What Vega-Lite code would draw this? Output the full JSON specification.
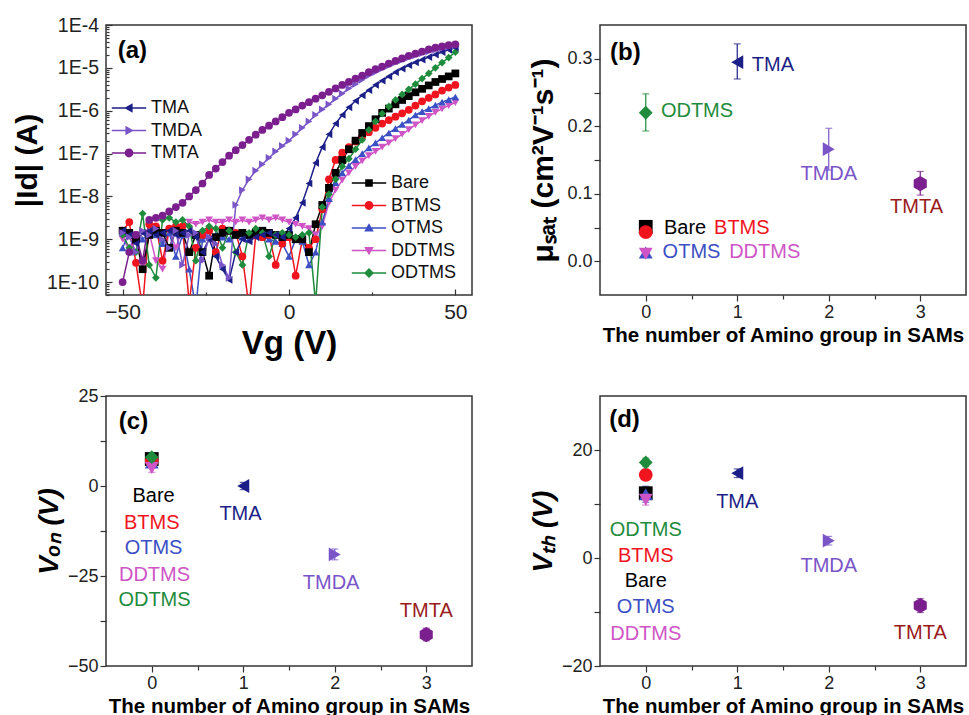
{
"$schema": "https://vega.github.io/schema/vega-lite/v6.json",
"background": "white",
"padding": {"left": 11, "top": 14, "right": 0, "bottom": 0},
"config": {
  "font": "Liberation Sans",
  "view": {"stroke": "#333", "strokeWidth": 1.5},
  "axis": {"grid": false, "domain": false, "labelFont": "Liberation Sans", "labelColor": "#222", "tickColor": "#333", "tickWidth": 1.2, "titleFont": "Liberation Sans", "titleFontWeight": "bold", "titleColor": "#000", "labelOverlap": false, "labelFlush": false},
  "legend": {"labelFont": "Liberation Sans", "labelFontSize": 18, "labelColor": "#111", "symbolSize": 64, "symbolStrokeWidth": 0, "rowPadding": 4.5, "padding": 0}
},
"datasets": {
"ivSam": [
{"s":"DDTMS","v":-50,"i":1.0e-9},{"s":"DDTMS","v":-48,"i":6.31e-10},{"s":"DDTMS","v":-46,"i":1.26e-9},{"s":"DDTMS","v":-44,"i":2.51e-10},{"s":"DDTMS","v":-42,"i":1.41e-9},{"s":"DDTMS","v":-40,"i":3.16e-10},{"s":"DDTMS","v":-38,"i":2.0e-10},{"s":"DDTMS","v":-36,"i":1.58e-9},{"s":"DDTMS","v":-34,"i":6.31e-10},{"s":"DDTMS","v":-32,"i":1.78e-9},{"s":"DDTMS","v":-30,"i":2.51e-9},{"s":"DDTMS","v":-28,"i":2.24e-9},{"s":"DDTMS","v":-26,"i":2.51e-9},{"s":"DDTMS","v":-24,"i":2.82e-9},{"s":"DDTMS","v":-22,"i":2.51e-9},{"s":"DDTMS","v":-20,"i":2.51e-9},{"s":"DDTMS","v":-18,"i":2.82e-9},{"s":"DDTMS","v":-16,"i":2.51e-9},{"s":"DDTMS","v":-14,"i":2.82e-9},{"s":"DDTMS","v":-12,"i":2.51e-9},{"s":"DDTMS","v":-10,"i":2.82e-9},{"s":"DDTMS","v":-8,"i":3.16e-9},{"s":"DDTMS","v":-6,"i":2.82e-9},{"s":"DDTMS","v":-4,"i":3.16e-9},{"s":"DDTMS","v":-2,"i":2.82e-9},{"s":"DDTMS","v":0,"i":2.51e-9},{"s":"DDTMS","v":2,"i":2.24e-9},{"s":"DDTMS","v":4,"i":2.0e-9},{"s":"DDTMS","v":6,"i":1.78e-9},{"s":"DDTMS","v":8,"i":1.26e-9},{"s":"DDTMS","v":10,"i":2.0e-9},{"s":"DDTMS","v":12,"i":7.08e-9},{"s":"DDTMS","v":14,"i":1.41e-8},{"s":"DDTMS","v":16,"i":2.4e-8},{"s":"DDTMS","v":18,"i":3.55e-8},{"s":"DDTMS","v":20,"i":5.01e-8},{"s":"DDTMS","v":22,"i":6.76e-8},{"s":"DDTMS","v":24,"i":8.91e-8},{"s":"DDTMS","v":26,"i":1.12e-7},{"s":"DDTMS","v":28,"i":1.41e-7},{"s":"DDTMS","v":30,"i":1.78e-7},{"s":"DDTMS","v":32,"i":2.24e-7},{"s":"DDTMS","v":34,"i":2.82e-7},{"s":"DDTMS","v":36,"i":3.63e-7},{"s":"DDTMS","v":38,"i":4.68e-7},{"s":"DDTMS","v":40,"i":5.89e-7},{"s":"DDTMS","v":42,"i":7.41e-7},{"s":"DDTMS","v":44,"i":9.12e-7},{"s":"DDTMS","v":46,"i":1.1e-6},{"s":"DDTMS","v":48,"i":1.32e-6},{"s":"DDTMS","v":50,"i":1.55e-6},
{"s":"OTMS","v":-50,"i":6.31e-10},{"s":"OTMS","v":-48,"i":1.41e-9},{"s":"OTMS","v":-46,"i":1.26e-9},{"s":"OTMS","v":-44,"i":1.0e-9},{"s":"OTMS","v":-42,"i":1.41e-9},{"s":"OTMS","v":-40,"i":1.26e-9},{"s":"OTMS","v":-38,"i":7.94e-10},{"s":"OTMS","v":-36,"i":1.41e-9},{"s":"OTMS","v":-34,"i":3.98e-10},{"s":"OTMS","v":-32,"i":1.26e-9},{"s":"OTMS","v":-30,"i":2.0e-10},{"s":"OTMS","v":-28,"i":2.5e-11},{"s":"OTMS","v":-26,"i":1.0e-9},{"s":"OTMS","v":-24,"i":1.12e-9},{"s":"OTMS","v":-22,"i":1.26e-9},{"s":"OTMS","v":-20,"i":1.12e-9},{"s":"OTMS","v":-18,"i":1.0e-9},{"s":"OTMS","v":-16,"i":1.26e-9},{"s":"OTMS","v":-14,"i":1.12e-9},{"s":"OTMS","v":-12,"i":1.0e-9},{"s":"OTMS","v":-10,"i":1.26e-9},{"s":"OTMS","v":-8,"i":1.12e-9},{"s":"OTMS","v":-6,"i":1.0e-9},{"s":"OTMS","v":-4,"i":8.91e-10},{"s":"OTMS","v":-2,"i":7.94e-10},{"s":"OTMS","v":0,"i":3.98e-10},{"s":"OTMS","v":2,"i":1.0e-9},{"s":"OTMS","v":4,"i":8.91e-10},{"s":"OTMS","v":6,"i":2.51e-10},{"s":"OTMS","v":8,"i":5.01e-10},{"s":"OTMS","v":10,"i":2.51e-9},{"s":"OTMS","v":12,"i":8.91e-9},{"s":"OTMS","v":14,"i":2.09e-8},{"s":"OTMS","v":16,"i":3.55e-8},{"s":"OTMS","v":18,"i":5.25e-8},{"s":"OTMS","v":20,"i":7.24e-8},{"s":"OTMS","v":22,"i":1.0e-7},{"s":"OTMS","v":24,"i":1.35e-7},{"s":"OTMS","v":26,"i":1.78e-7},{"s":"OTMS","v":28,"i":2.34e-7},{"s":"OTMS","v":30,"i":3.02e-7},{"s":"OTMS","v":32,"i":3.8e-7},{"s":"OTMS","v":34,"i":4.79e-7},{"s":"OTMS","v":36,"i":6.03e-7},{"s":"OTMS","v":38,"i":7.94e-7},{"s":"OTMS","v":40,"i":9.55e-7},{"s":"OTMS","v":42,"i":1.12e-6},{"s":"OTMS","v":44,"i":1.35e-6},{"s":"OTMS","v":46,"i":1.58e-6},{"s":"OTMS","v":48,"i":1.82e-6},{"s":"OTMS","v":50,"i":2.09e-6},
{"s":"BTMS","v":-50,"i":1.58e-9},{"s":"BTMS","v":-48,"i":2.51e-9},{"s":"BTMS","v":-46,"i":2.82e-10},{"s":"BTMS","v":-44,"i":2.5e-11},{"s":"BTMS","v":-42,"i":2.24e-9},{"s":"BTMS","v":-40,"i":2.0e-9},{"s":"BTMS","v":-38,"i":3.16e-10},{"s":"BTMS","v":-36,"i":1.78e-9},{"s":"BTMS","v":-34,"i":2.0e-9},{"s":"BTMS","v":-32,"i":2.0e-9},{"s":"BTMS","v":-30,"i":3.16e-11},{"s":"BTMS","v":-28,"i":6.31e-10},{"s":"BTMS","v":-26,"i":1.26e-9},{"s":"BTMS","v":-24,"i":1.58e-9},{"s":"BTMS","v":-22,"i":5.01e-10},{"s":"BTMS","v":-20,"i":1.78e-9},{"s":"BTMS","v":-18,"i":1.58e-9},{"s":"BTMS","v":-16,"i":1.41e-9},{"s":"BTMS","v":-14,"i":3.98e-10},{"s":"BTMS","v":-12,"i":2.5e-11},{"s":"BTMS","v":-10,"i":1.26e-9},{"s":"BTMS","v":-8,"i":1.12e-9},{"s":"BTMS","v":-6,"i":1.26e-9},{"s":"BTMS","v":-4,"i":2.51e-10},{"s":"BTMS","v":-2,"i":7.94e-10},{"s":"BTMS","v":0,"i":1.12e-9},{"s":"BTMS","v":2,"i":1.41e-10},{"s":"BTMS","v":4,"i":1.0e-9},{"s":"BTMS","v":6,"i":6.31e-10},{"s":"BTMS","v":8,"i":1.0e-9},{"s":"BTMS","v":10,"i":5.01e-9},{"s":"BTMS","v":12,"i":2.51e-8},{"s":"BTMS","v":14,"i":7.08e-8},{"s":"BTMS","v":16,"i":1.05e-7},{"s":"BTMS","v":18,"i":1.41e-7},{"s":"BTMS","v":20,"i":1.91e-7},{"s":"BTMS","v":22,"i":2.51e-7},{"s":"BTMS","v":24,"i":3.16e-7},{"s":"BTMS","v":26,"i":3.98e-7},{"s":"BTMS","v":28,"i":5.01e-7},{"s":"BTMS","v":30,"i":6.03e-7},{"s":"BTMS","v":32,"i":7.24e-7},{"s":"BTMS","v":34,"i":8.71e-7},{"s":"BTMS","v":36,"i":1.05e-6},{"s":"BTMS","v":38,"i":1.32e-6},{"s":"BTMS","v":40,"i":1.66e-6},{"s":"BTMS","v":42,"i":2.0e-6},{"s":"BTMS","v":44,"i":2.4e-6},{"s":"BTMS","v":46,"i":2.95e-6},{"s":"BTMS","v":48,"i":3.47e-6},{"s":"BTMS","v":50,"i":3.98e-6},
{"s":"Bare","v":-50,"i":1.58e-9},{"s":"Bare","v":-48,"i":1.41e-9},{"s":"Bare","v":-46,"i":1.0e-9},{"s":"Bare","v":-44,"i":2.0e-10},{"s":"Bare","v":-42,"i":1.26e-9},{"s":"Bare","v":-40,"i":1.58e-9},{"s":"Bare","v":-38,"i":1.41e-9},{"s":"Bare","v":-36,"i":6.31e-10},{"s":"Bare","v":-34,"i":1.58e-9},{"s":"Bare","v":-32,"i":1.41e-9},{"s":"Bare","v":-30,"i":5.0e-10},{"s":"Bare","v":-28,"i":1.26e-9},{"s":"Bare","v":-26,"i":5.0e-10},{"s":"Bare","v":-24,"i":1.41e-10},{"s":"Bare","v":-22,"i":1.12e-9},{"s":"Bare","v":-20,"i":1.41e-9},{"s":"Bare","v":-18,"i":1.58e-9},{"s":"Bare","v":-16,"i":1.26e-9},{"s":"Bare","v":-14,"i":1.41e-9},{"s":"Bare","v":-12,"i":1.26e-9},{"s":"Bare","v":-10,"i":1.41e-9},{"s":"Bare","v":-8,"i":1.58e-9},{"s":"Bare","v":-6,"i":1.41e-9},{"s":"Bare","v":-4,"i":1.26e-9},{"s":"Bare","v":-2,"i":1.12e-9},{"s":"Bare","v":0,"i":1.26e-9},{"s":"Bare","v":2,"i":1.0e-9},{"s":"Bare","v":4,"i":1.0e-9},{"s":"Bare","v":6,"i":5.0e-10},{"s":"Bare","v":8,"i":2.24e-9},{"s":"Bare","v":10,"i":6.31e-9},{"s":"Bare","v":12,"i":1.58e-8},{"s":"Bare","v":14,"i":3.55e-8},{"s":"Bare","v":16,"i":7.08e-8},{"s":"Bare","v":18,"i":1.26e-7},{"s":"Bare","v":20,"i":2.0e-7},{"s":"Bare","v":22,"i":3.02e-7},{"s":"Bare","v":24,"i":4.37e-7},{"s":"Bare","v":26,"i":6.31e-7},{"s":"Bare","v":28,"i":8.91e-7},{"s":"Bare","v":30,"i":1.12e-6},{"s":"Bare","v":32,"i":1.41e-6},{"s":"Bare","v":34,"i":1.78e-6},{"s":"Bare","v":36,"i":2.19e-6},{"s":"Bare","v":38,"i":2.69e-6},{"s":"Bare","v":40,"i":3.24e-6},{"s":"Bare","v":42,"i":3.89e-6},{"s":"Bare","v":44,"i":4.68e-6},{"s":"Bare","v":46,"i":5.5e-6},{"s":"Bare","v":48,"i":6.31e-6},{"s":"Bare","v":50,"i":7.41e-6},
{"s":"ODTMS","v":-50,"i":1.26e-9},{"s":"ODTMS","v":-48,"i":6.31e-10},{"s":"ODTMS","v":-46,"i":5.0e-10},{"s":"ODTMS","v":-44,"i":3.98e-9},{"s":"ODTMS","v":-42,"i":2.51e-10},{"s":"ODTMS","v":-40,"i":1.26e-10},{"s":"ODTMS","v":-38,"i":2.82e-9},{"s":"ODTMS","v":-36,"i":3.16e-9},{"s":"ODTMS","v":-34,"i":2.51e-9},{"s":"ODTMS","v":-32,"i":2.82e-9},{"s":"ODTMS","v":-30,"i":2.0e-9},{"s":"ODTMS","v":-28,"i":3.16e-10},{"s":"ODTMS","v":-26,"i":1.58e-9},{"s":"ODTMS","v":-24,"i":2.0e-9},{"s":"ODTMS","v":-22,"i":1.78e-9},{"s":"ODTMS","v":-20,"i":6.31e-10},{"s":"ODTMS","v":-18,"i":1.58e-9},{"s":"ODTMS","v":-16,"i":5.0e-10},{"s":"ODTMS","v":-14,"i":2.51e-10},{"s":"ODTMS","v":-12,"i":1.41e-9},{"s":"ODTMS","v":-10,"i":1.78e-9},{"s":"ODTMS","v":-8,"i":1.41e-9},{"s":"ODTMS","v":-6,"i":3.98e-10},{"s":"ODTMS","v":-4,"i":1.26e-9},{"s":"ODTMS","v":-2,"i":1.41e-9},{"s":"ODTMS","v":0,"i":1.26e-9},{"s":"ODTMS","v":2,"i":1.12e-9},{"s":"ODTMS","v":4,"i":1.26e-9},{"s":"ODTMS","v":6,"i":1.41e-9},{"s":"ODTMS","v":8,"i":3.16e-11},{"s":"ODTMS","v":10,"i":5.62e-9},{"s":"ODTMS","v":12,"i":1.12e-8},{"s":"ODTMS","v":14,"i":2.51e-8},{"s":"ODTMS","v":16,"i":5.01e-8},{"s":"ODTMS","v":18,"i":7.59e-8},{"s":"ODTMS","v":20,"i":1.26e-7},{"s":"ODTMS","v":22,"i":2.09e-7},{"s":"ODTMS","v":24,"i":3.55e-7},{"s":"ODTMS","v":26,"i":5.62e-7},{"s":"ODTMS","v":28,"i":8.51e-7},{"s":"ODTMS","v":30,"i":1.26e-6},{"s":"ODTMS","v":32,"i":1.78e-6},{"s":"ODTMS","v":34,"i":2.4e-6},{"s":"ODTMS","v":36,"i":3.16e-6},{"s":"ODTMS","v":38,"i":4.17e-6},{"s":"ODTMS","v":40,"i":5.62e-6},{"s":"ODTMS","v":42,"i":7.41e-6},{"s":"ODTMS","v":44,"i":1.0e-5},{"s":"ODTMS","v":46,"i":1.32e-5},{"s":"ODTMS","v":48,"i":1.74e-5},{"s":"ODTMS","v":50,"i":2.34e-5}
],
"ivAmino": [
{"s":"TMA","v":-50,"i":1.58e-9},{"s":"TMA","v":-48,"i":1.26e-9},{"s":"TMA","v":-46,"i":7.94e-10},{"s":"TMA","v":-44,"i":1.41e-9},{"s":"TMA","v":-42,"i":1.58e-9},{"s":"TMA","v":-40,"i":1.26e-9},{"s":"TMA","v":-38,"i":1.41e-9},{"s":"TMA","v":-36,"i":1.58e-9},{"s":"TMA","v":-34,"i":1.26e-9},{"s":"TMA","v":-32,"i":1.41e-9},{"s":"TMA","v":-30,"i":1.58e-9},{"s":"TMA","v":-28,"i":1.12e-9},{"s":"TMA","v":-26,"i":5.0e-10},{"s":"TMA","v":-24,"i":1.0e-9},{"s":"TMA","v":-22,"i":3.98e-10},{"s":"TMA","v":-20,"i":2.0e-10},{"s":"TMA","v":-18,"i":1.12e-10},{"s":"TMA","v":-16,"i":5.0e-10},{"s":"TMA","v":-14,"i":1.0e-9},{"s":"TMA","v":-12,"i":8.91e-10},{"s":"TMA","v":-10,"i":1.12e-9},{"s":"TMA","v":-8,"i":1.26e-9},{"s":"TMA","v":-6,"i":1.41e-9},{"s":"TMA","v":-4,"i":1.26e-9},{"s":"TMA","v":-2,"i":1.12e-9},{"s":"TMA","v":0,"i":1.78e-9},{"s":"TMA","v":2,"i":3.16e-9},{"s":"TMA","v":4,"i":7.08e-9},{"s":"TMA","v":6,"i":2.0e-8},{"s":"TMA","v":8,"i":6.03e-8},{"s":"TMA","v":10,"i":1.41e-7},{"s":"TMA","v":12,"i":2.82e-7},{"s":"TMA","v":14,"i":5.01e-7},{"s":"TMA","v":16,"i":7.94e-7},{"s":"TMA","v":18,"i":1.2e-6},{"s":"TMA","v":20,"i":1.7e-6},{"s":"TMA","v":22,"i":2.29e-6},{"s":"TMA","v":24,"i":3.02e-6},{"s":"TMA","v":26,"i":3.98e-6},{"s":"TMA","v":28,"i":5.01e-6},{"s":"TMA","v":30,"i":6.31e-6},{"s":"TMA","v":32,"i":7.94e-6},{"s":"TMA","v":34,"i":9.55e-6},{"s":"TMA","v":36,"i":1.15e-5},{"s":"TMA","v":38,"i":1.35e-5},{"s":"TMA","v":40,"i":1.55e-5},{"s":"TMA","v":42,"i":1.78e-5},{"s":"TMA","v":44,"i":2.04e-5},{"s":"TMA","v":46,"i":2.34e-5},{"s":"TMA","v":48,"i":2.63e-5},{"s":"TMA","v":50,"i":2.95e-5},
{"s":"TMDA","v":-50,"i":1.41e-9},{"s":"TMDA","v":-48,"i":1.12e-9},{"s":"TMDA","v":-46,"i":5.0e-10},{"s":"TMDA","v":-44,"i":1.58e-9},{"s":"TMDA","v":-42,"i":1.26e-9},{"s":"TMDA","v":-40,"i":1.78e-9},{"s":"TMDA","v":-38,"i":1.0e-9},{"s":"TMDA","v":-36,"i":6.31e-10},{"s":"TMDA","v":-34,"i":1.58e-9},{"s":"TMDA","v":-32,"i":2.51e-10},{"s":"TMDA","v":-30,"i":1.26e-9},{"s":"TMDA","v":-28,"i":1.41e-9},{"s":"TMDA","v":-26,"i":3.16e-10},{"s":"TMDA","v":-24,"i":1.12e-9},{"s":"TMDA","v":-22,"i":7.94e-10},{"s":"TMDA","v":-20,"i":2.51e-10},{"s":"TMDA","v":-18,"i":1.26e-10},{"s":"TMDA","v":-16,"i":6.31e-9},{"s":"TMDA","v":-14,"i":1.41e-8},{"s":"TMDA","v":-12,"i":2.51e-8},{"s":"TMDA","v":-10,"i":3.98e-8},{"s":"TMDA","v":-8,"i":5.62e-8},{"s":"TMDA","v":-6,"i":7.94e-8},{"s":"TMDA","v":-4,"i":1.12e-7},{"s":"TMDA","v":-2,"i":1.51e-7},{"s":"TMDA","v":0,"i":2.0e-7},{"s":"TMDA","v":2,"i":2.82e-7},{"s":"TMDA","v":4,"i":3.98e-7},{"s":"TMDA","v":6,"i":5.62e-7},{"s":"TMDA","v":8,"i":7.94e-7},{"s":"TMDA","v":10,"i":1.07e-6},{"s":"TMDA","v":12,"i":1.41e-6},{"s":"TMDA","v":14,"i":1.91e-6},{"s":"TMDA","v":16,"i":2.51e-6},{"s":"TMDA","v":18,"i":3.31e-6},{"s":"TMDA","v":20,"i":4.17e-6},{"s":"TMDA","v":22,"i":5.25e-6},{"s":"TMDA","v":24,"i":6.61e-6},{"s":"TMDA","v":26,"i":7.94e-6},{"s":"TMDA","v":28,"i":9.55e-6},{"s":"TMDA","v":30,"i":1.12e-5},{"s":"TMDA","v":32,"i":1.32e-5},{"s":"TMDA","v":34,"i":1.51e-5},{"s":"TMDA","v":36,"i":1.74e-5},{"s":"TMDA","v":38,"i":1.95e-5},{"s":"TMDA","v":40,"i":2.19e-5},{"s":"TMDA","v":42,"i":2.4e-5},{"s":"TMDA","v":44,"i":2.63e-5},{"s":"TMDA","v":46,"i":2.88e-5},{"s":"TMDA","v":48,"i":3.09e-5},{"s":"TMDA","v":50,"i":3.31e-5},
{"s":"TMTA","v":-50,"i":1.0e-10},{"s":"TMTA","v":-48,"i":5.0e-10},{"s":"TMTA","v":-46,"i":1.26e-9},{"s":"TMTA","v":-44,"i":3.16e-10},{"s":"TMTA","v":-42,"i":2.82e-9},{"s":"TMTA","v":-40,"i":3.16e-9},{"s":"TMTA","v":-38,"i":3.55e-9},{"s":"TMTA","v":-36,"i":4.47e-9},{"s":"TMTA","v":-34,"i":5.62e-9},{"s":"TMTA","v":-32,"i":7.08e-9},{"s":"TMTA","v":-30,"i":1.0e-8},{"s":"TMTA","v":-28,"i":1.41e-8},{"s":"TMTA","v":-26,"i":2.0e-8},{"s":"TMTA","v":-24,"i":3.16e-8},{"s":"TMTA","v":-22,"i":4.47e-8},{"s":"TMTA","v":-20,"i":6.31e-8},{"s":"TMTA","v":-18,"i":8.91e-8},{"s":"TMTA","v":-16,"i":1.2e-7},{"s":"TMTA","v":-14,"i":1.58e-7},{"s":"TMTA","v":-12,"i":2.09e-7},{"s":"TMTA","v":-10,"i":2.75e-7},{"s":"TMTA","v":-8,"i":3.55e-7},{"s":"TMTA","v":-6,"i":4.47e-7},{"s":"TMTA","v":-4,"i":5.62e-7},{"s":"TMTA","v":-2,"i":7.08e-7},{"s":"TMTA","v":0,"i":8.91e-7},{"s":"TMTA","v":2,"i":1.07e-6},{"s":"TMTA","v":4,"i":1.32e-6},{"s":"TMTA","v":6,"i":1.58e-6},{"s":"TMTA","v":8,"i":1.91e-6},{"s":"TMTA","v":10,"i":2.29e-6},{"s":"TMTA","v":12,"i":2.75e-6},{"s":"TMTA","v":14,"i":3.31e-6},{"s":"TMTA","v":16,"i":3.98e-6},{"s":"TMTA","v":18,"i":4.68e-6},{"s":"TMTA","v":20,"i":5.62e-6},{"s":"TMTA","v":22,"i":6.61e-6},{"s":"TMTA","v":24,"i":7.94e-6},{"s":"TMTA","v":26,"i":9.33e-6},{"s":"TMTA","v":28,"i":1.07e-5},{"s":"TMTA","v":30,"i":1.26e-5},{"s":"TMTA","v":32,"i":1.45e-5},{"s":"TMTA","v":34,"i":1.66e-5},{"s":"TMTA","v":36,"i":1.91e-5},{"s":"TMTA","v":38,"i":2.14e-5},{"s":"TMTA","v":40,"i":2.4e-5},{"s":"TMTA","v":42,"i":2.69e-5},{"s":"TMTA","v":44,"i":2.95e-5},{"s":"TMTA","v":46,"i":3.16e-5},{"s":"TMTA","v":48,"i":3.39e-5},{"s":"TMTA","v":50,"i":3.55e-5}
],
"mu": [
{"s":"Bare","n":0,"y":0.051,"lo":0.048,"hi":0.054},
{"s":"BTMS","n":0,"y":0.043,"lo":0.036,"hi":0.05},
{"s":"OTMS","n":0,"y":0.013,"lo":0.008,"hi":0.018},
{"s":"DDTMS","n":0,"y":0.011,"lo":0.006,"hi":0.016},
{"s":"ODTMS","n":0,"y":0.22,"lo":0.193,"hi":0.248},
{"s":"TMA","n":1,"y":0.295,"lo":0.27,"hi":0.322},
{"s":"TMDA","n":2,"y":0.166,"lo":0.135,"hi":0.197},
{"s":"TMTA","n":3,"y":0.115,"lo":0.098,"hi":0.133}
],
"muLab": [
{"s":"ODTMS","t":"ODTMS","lx":0.56,"ly":0.222},
{"s":"TMA","t":"TMA","lx":1.39,"ly":0.291},
{"s":"Bare","t":"Bare","lx":0.43,"ly":0.049},
{"s":"BTMS","t":"BTMS","lx":1.05,"ly":0.049},
{"s":"OTMS","t":"OTMS","lx":0.5,"ly":0.014},
{"s":"DDTMS","t":"DDTMS","lx":1.3,"ly":0.014},
{"s":"TMDA","t":"TMDA","lx":2.0,"ly":0.13},
{"s":"TMTA","t":"TMTA","lx":2.96,"ly":0.08}
],
"von": [
{"s":"Bare","n":0,"y":7.5,"lo":6.5,"hi":8.5},
{"s":"BTMS","n":0,"y":7,"lo":6,"hi":8},
{"s":"OTMS","n":0,"y":6.5,"lo":5.5,"hi":7.5},
{"s":"DDTMS","n":0,"y":5,"lo":3.8,"hi":6.2},
{"s":"ODTMS","n":0,"y":8,"lo":7,"hi":9},
{"s":"TMA","n":1,"y":0,"lo":-1,"hi":1},
{"s":"TMDA","n":2,"y":-19,"lo":-20.5,"hi":-17.5},
{"s":"TMTA","n":3,"y":-41.3,"lo":-43,"hi":-39.5}
],
"vonLab": [
{"s":"Bare","t":"Bare","lx":0.02,"ly":-2.8},
{"s":"BTMS","t":"BTMS","lx":0.0,"ly":-10.4},
{"s":"OTMS","t":"OTMS","lx":0.02,"ly":-17.3},
{"s":"DDTMS","t":"DDTMS","lx":0.03,"ly":-24.6},
{"s":"ODTMS","t":"ODTMS","lx":0.03,"ly":-31.8},
{"s":"TMA","t":"TMA","lx":0.97,"ly":-7.8},
{"s":"TMDA","t":"TMDA","lx":1.96,"ly":-27},
{"s":"TMTA","t":"TMTA","lx":3.0,"ly":-34.6}
],
"vth": [
{"s":"Bare","n":0,"y":12.0,"lo":11,"hi":13},
{"s":"OTMS","n":0,"y":11.8,"lo":10.3,"hi":13.3},
{"s":"DDTMS","n":0,"y":10.8,"lo":9.8,"hi":11.8},
{"s":"BTMS","n":0,"y":15.4,"lo":14.5,"hi":16.3},
{"s":"ODTMS","n":0,"y":17.7,"lo":16.9,"hi":18.5},
{"s":"TMA","n":1,"y":15.7,"lo":14.9,"hi":16.5},
{"s":"TMDA","n":2,"y":3.2,"lo":2.4,"hi":4.0},
{"s":"TMTA","n":3,"y":-8.8,"lo":-10.1,"hi":-7.5}
],
"vthLab": [
{"s":"ODTMS","t":"ODTMS","lx":0.0,"ly":5.2},
{"s":"BTMS","t":"BTMS","lx":0.0,"ly":0.3},
{"s":"Bare","t":"Bare","lx":0.0,"ly":-4.3},
{"s":"OTMS","t":"OTMS","lx":0.0,"ly":-9.1},
{"s":"DDTMS","t":"DDTMS","lx":0.0,"ly":-14.1},
{"s":"TMA","t":"TMA","lx":1.0,"ly":10.4},
{"s":"TMDA","t":"TMDA","lx":2.0,"ly":-1.5},
{"s":"TMTA","t":"TMTA","lx":3.0,"ly":-13.9}
]
},
"columns": 2,
"bounds": "flush",
"spacing": {"row": 101, "column": 128},
"resolve": {"scale": {"x": "independent", "y": "independent", "color": "independent", "fill": "independent", "stroke": "independent", "shape": "independent"}},
"concat": [
{
 "width": 366, "height": 270,
 "resolve": {"scale": {"shape": "independent", "fill": "independent", "color": "independent"}},
 "layer": [
  {"data": {"name": "ivSam"}, "mark": {"type": "line", "strokeWidth": 1.5, "clip": true},
   "encoding": {
    "x": {"field": "v", "type": "quantitative", "scale": {"domain": [-55, 55], "nice": false, "zero": false},
      "axis": {"title": "Vg (V)", "titleFontSize": 33, "titlePadding": 2, "values": [-50, -25, 0, 25, 50], "labelExpr": "datum.value % 50 === 0 ? datum.label : ''", "labelFontSize": 21, "labelPadding": 12, "tickSize": {"condition": {"test": "datum.value % 50 === 0", "value": -6}, "value": -3}}},
    "y": {"field": "i", "type": "quantitative", "scale": {"type": "log", "domain": [5e-11, 1e-4], "nice": false},
      "axis": {"title": "|Id| (A)", "titleFontSize": 30, "titlePadding": 4, "labelFontSize": 19.5, "labelPadding": 13.5,
        "values": [5e-11,6e-11,7e-11,8e-11,9e-11,1e-10,2e-10,3e-10,4e-10,5e-10,6e-10,7e-10,8e-10,9e-10,1e-9,2e-9,3e-9,4e-9,5e-9,6e-9,7e-9,8e-9,9e-9,1e-8,2e-8,3e-8,4e-8,5e-8,6e-8,7e-8,8e-8,9e-8,1e-7,2e-7,3e-7,4e-7,5e-7,6e-7,7e-7,8e-7,9e-7,1e-6,2e-6,3e-6,4e-6,5e-6,6e-6,7e-6,8e-6,9e-6,1e-5,2e-5,3e-5,4e-5,5e-5,6e-5,7e-5,8e-5,9e-5,1e-4],
        "labelExpr": "abs(log(datum.value)/LN10 - round(log(datum.value)/LN10)) < 0.001 ? '1E' + round(log(datum.value)/LN10) : ''",
        "tickSize": {"condition": {"test": "abs(log(datum.value)/LN10 - round(log(datum.value)/LN10)) < 0.001", "value": -6}, "value": -3}}},
    "stroke": {"field": "s", "type": "nominal", "scale": {"domain": ["Bare","BTMS","OTMS","DDTMS","ODTMS","TMA","TMDA","TMTA"], "range": ["#000000","#f0141e","#3c4fc4","#cf55c6","#1e8c3c","#1c1f87","#7a55c8","#7b1f8f"]}, "legend": null}
   }},
  {"data": {"name": "ivAmino"}, "mark": {"type": "line", "strokeWidth": 1.5, "clip": true},
   "encoding": {
    "x": {"field": "v", "type": "quantitative"},
    "y": {"field": "i", "type": "quantitative"},
    "stroke": {"field": "s", "type": "nominal", "legend": null}
   }},
  {"data": {"name": "ivSam"}, "mark": {"type": "point", "filled": true, "size": 60, "opacity": 1, "strokeWidth": 0, "clip": true},
   "encoding": {
    "x": {"field": "v", "type": "quantitative"},
    "y": {"field": "i", "type": "quantitative"},
    "shape": {"field": "s", "type": "nominal", "scale": {"domain": ["Bare","BTMS","OTMS","DDTMS","ODTMS"], "range": ["square","circle","triangle-up","triangle-down","diamond"]}, "legend": null},
    "fill": {"field": "s", "type": "nominal", "scale": {"domain": ["Bare","BTMS","OTMS","DDTMS","ODTMS"], "range": ["#000000","#f0141e","#3c4fc4","#cf55c6","#1e8c3c"]}, "legend": null}
   }},
  {"data": {"name": "ivAmino"}, "mark": {"type": "point", "filled": true, "size": 60, "opacity": 1, "strokeWidth": 0, "clip": true},
   "encoding": {
    "x": {"field": "v", "type": "quantitative"},
    "y": {"field": "i", "type": "quantitative"},
    "shape": {"field": "s", "type": "nominal", "scale": {"domain": ["TMA","TMDA","TMTA"], "range": ["triangle-left","triangle-right","circle"]}, "legend": null},
    "fill": {"field": "s", "type": "nominal", "scale": {"domain": ["TMA","TMDA","TMTA"], "range": ["#1c1f87","#7a55c8","#7b1f8f"]}, "legend": null}
   }},
  {"data": {"name": "ivSam"}, "mark": {"type": "point", "filled": true, "size": 60, "opacity": 0, "strokeWidth": 0, "clip": true},
   "encoding": {
    "x": {"field": "v", "type": "quantitative"},
    "y": {"field": "i", "type": "quantitative"},
    "shape": {"field": "s", "type": "nominal", "scale": {"domain": ["Bare","BTMS","OTMS","DDTMS","ODTMS"], "range": [
      "M-4.3,-0.19H4.3V0.19H-4.3Z M-0.95,-0.95H0.95V0.95H-0.95Z",
      "M-4.3,-0.19H4.3V0.19H-4.3Z M-1.1,0A1.1,1.1 0 1,1 1.1,0A1.1,1.1 0 1,1 -1.1,0Z",
      "M-4.3,-0.19H4.3V0.19H-4.3Z M0,-1.2L1.2,0.9H-1.2Z",
      "M-4.3,-0.19H4.3V0.19H-4.3Z M0,1.2L-1.2,-0.9H1.2Z",
      "M-4.3,-0.19H4.3V0.19H-4.3Z M0,-1.25L1.25,0L0,1.25L-1.25,0Z"]},
      "legend": {"title": null, "orient": "none", "legendX": 254, "legendY": 149, "labelOffset": 13, "symbolOpacity": 1}},
    "fill": {"field": "s", "type": "nominal", "scale": {"domain": ["Bare","BTMS","OTMS","DDTMS","ODTMS"], "range": ["#000000","#f0141e","#3c4fc4","#cf55c6","#1e8c3c"]},
      "legend": {"title": null, "orient": "none", "legendX": 254, "legendY": 149, "labelOffset": 13, "symbolOpacity": 1}}
   }},
  {"data": {"name": "ivAmino"}, "mark": {"type": "point", "filled": true, "size": 60, "opacity": 0, "strokeWidth": 0, "clip": true},
   "encoding": {
    "x": {"field": "v", "type": "quantitative"},
    "y": {"field": "i", "type": "quantitative"},
    "shape": {"field": "s", "type": "nominal", "scale": {"domain": ["TMA","TMDA","TMTA"], "range": [
      "M-4.3,-0.19H4.3V0.19H-4.3Z M-1.2,0L0.9,-1.2V1.2Z",
      "M-4.3,-0.19H4.3V0.19H-4.3Z M1.2,0L-0.9,1.2V-1.2Z",
      "M-4.3,-0.19H4.3V0.19H-4.3Z M-1.1,0A1.1,1.1 0 1,1 1.1,0A1.1,1.1 0 1,1 -1.1,0Z"]},
      "legend": {"title": null, "orient": "none", "legendX": 14, "legendY": 74, "labelOffset": 13, "symbolOpacity": 1}},
    "fill": {"field": "s", "type": "nominal", "scale": {"domain": ["TMA","TMDA","TMTA"], "range": ["#1c1f87","#7a55c8","#7b1f8f"]},
      "legend": {"title": null, "orient": "none", "legendX": 14, "legendY": 74, "labelOffset": 13, "symbolOpacity": 1}}
   }},
  {"data": {"values": [{}]}, "mark": {"type": "text", "fontSize": 24, "fontWeight": "bold", "align": "left", "baseline": "middle", "font": "Liberation Sans"},
   "encoding": {"x": {"datum": -51.5}, "y": {"datum": 2.5e-5}, "text": {"value": "(a)"}}}
 ]
},
{
 "width": 366, "height": 270,
 "layer": [
  {"data": {"name": "mu"}, "mark": {"type": "errorbar", "ticks": {"size": 7}, "thickness": 1.2},
   "encoding": {
    "x": {"field": "n", "type": "quantitative", "scale": {"domain": [-0.5, 3.5], "nice": false, "zero": false},
      "axis": {"title": "The number of Amino group in SAMs", "titleFontSize": 20.5, "titlePadding": 4, "labelFontSize": 18, "labelPadding": 2, "values": [0, 0.5, 1, 1.5, 2, 2.5, 3], "labelExpr": "datum.value % 1 === 0 ? format(datum.value, 'd') : ''", "tickSize": {"condition": {"test": "datum.value % 1 === 0", "value": 6}, "value": 4}}},
    "y": {"field": "lo", "type": "quantitative", "scale": {"domain": [-0.05, 0.35], "nice": false, "zero": false},
      "axis": {"title": "μₛₐₜ (cm²V⁻¹s⁻¹)", "titleFontSize": 30, "titlePadding": 8, "labelFontSize": 18, "labelPadding": 2, "values": [0, 0.05, 0.1, 0.15, 0.2, 0.25, 0.3], "labelExpr": "abs(datum.value*10 - round(datum.value*10)) < 0.001 ? format(datum.value, '.1f') : ''", "tickSize": 6}},
    "y2": {"field": "hi"},
    "color": {"field": "s", "type": "nominal", "scale": {"domain": ["Bare","BTMS","OTMS","DDTMS","ODTMS","TMA","TMDA","TMTA"], "range": ["#000000","#f0141e","#3c4fc4","#cf55c6","#1e8c3c","#1c1f87","#7a55c8","#7b1f8f"]}, "legend": null}
   }},
  {"data": {"name": "mu"}, "mark": {"type": "point", "filled": true, "size": 190, "opacity": 1},
   "encoding": {
    "x": {"field": "n", "type": "quantitative"},
    "y": {"field": "y", "type": "quantitative"},
    "color": {"field": "s", "type": "nominal", "legend": null},
    "shape": {"field": "s", "type": "nominal", "scale": {"domain": ["Bare","BTMS","OTMS","DDTMS","ODTMS","TMA","TMDA","TMTA"], "range": ["square","circle","triangle-up","triangle-down","diamond","triangle-left","triangle-right","M0,-1.1L0.95,-0.55L0.95,0.55L0,1.1L-0.95,0.55L-0.95,-0.55Z"]}, "legend": null}
   }},
  {"data": {"name": "muLab"}, "mark": {"type": "text", "fontSize": 20, "font": "Liberation Sans", "align": "center", "baseline": "middle"},
   "encoding": {
    "x": {"field": "lx", "type": "quantitative"},
    "y": {"field": "ly", "type": "quantitative"},
    "text": {"field": "t"},
    "fill": {"field": "s", "type": "nominal", "scale": {"domain": ["Bare","BTMS","OTMS","DDTMS","ODTMS","TMA","TMDA","TMTA"], "range": ["#000000","#f0141e","#3c4fc4","#cf55c6","#1e8c3c","#1c1f87","#7a55c8","#9a1b1b"]}, "legend": null}
   }},
  {"data": {"values": [{}]}, "mark": {"type": "text", "fontSize": 24, "fontWeight": "bold", "align": "left", "baseline": "middle", "font": "Liberation Sans"},
   "encoding": {"x": {"datum": -0.39}, "y": {"datum": 0.308}, "text": {"value": "(b)"}}}
 ]
},
{
 "width": 366, "height": 270,
 "layer": [
  {"data": {"name": "von"}, "mark": {"type": "errorbar", "ticks": {"size": 7}, "thickness": 1.2},
   "encoding": {
    "x": {"field": "n", "type": "quantitative", "scale": {"domain": [-0.5, 3.5], "nice": false, "zero": false},
      "axis": {"title": "The number of Amino group in SAMs", "titleFontSize": 20.5, "titlePadding": 4, "labelFontSize": 18, "labelPadding": 2, "values": [0, 0.5, 1, 1.5, 2, 2.5, 3], "labelExpr": "datum.value % 1 === 0 ? format(datum.value, 'd') : ''", "tickSize": {"condition": {"test": "datum.value % 1 === 0", "value": 6}, "value": 4}}},
    "y": {"field": "lo", "type": "quantitative", "scale": {"domain": [-50, 25], "nice": false, "zero": false},
      "axis": {"title": "Vₒₙ (V)", "titleFontSize": 28, "titleFontStyle": "italic", "titlePadding": 4, "labelFontSize": 18, "labelPadding": 2, "values": [-50, -37.5, -25, -12.5, 0, 12.5, 25], "labelExpr": "datum.value % 25 === 0 ? datum.label : ''", "tickSize": 6}},
    "y2": {"field": "hi"},
    "color": {"field": "s", "type": "nominal", "scale": {"domain": ["Bare","BTMS","OTMS","DDTMS","ODTMS","TMA","TMDA","TMTA"], "range": ["#000000","#f0141e","#3c4fc4","#cf55c6","#1e8c3c","#1c1f87","#7a55c8","#7b1f8f"]}, "legend": null}
   }},
  {"data": {"name": "von"}, "mark": {"type": "point", "filled": true, "size": 190, "opacity": 1},
   "encoding": {
    "x": {"field": "n", "type": "quantitative"},
    "y": {"field": "y", "type": "quantitative"},
    "color": {"field": "s", "type": "nominal", "legend": null},
    "shape": {"field": "s", "type": "nominal", "scale": {"domain": ["Bare","BTMS","OTMS","DDTMS","ODTMS","TMA","TMDA","TMTA"], "range": ["square","circle","triangle-up","triangle-down","diamond","triangle-left","triangle-right","M0,-1.1L0.95,-0.55L0.95,0.55L0,1.1L-0.95,0.55L-0.95,-0.55Z"]}, "legend": null}
   }},
  {"data": {"name": "vonLab"}, "mark": {"type": "text", "fontSize": 20, "font": "Liberation Sans", "align": "center", "baseline": "middle"},
   "encoding": {
    "x": {"field": "lx", "type": "quantitative"},
    "y": {"field": "ly", "type": "quantitative"},
    "text": {"field": "t"},
    "fill": {"field": "s", "type": "nominal", "scale": {"domain": ["Bare","BTMS","OTMS","DDTMS","ODTMS","TMA","TMDA","TMTA"], "range": ["#000000","#f0141e","#3c4fc4","#cf55c6","#1e8c3c","#1c1f87","#7a55c8","#9a1b1b"]}, "legend": null}
   }},
  {"data": {"values": [{}]}, "mark": {"type": "text", "fontSize": 24, "fontWeight": "bold", "align": "left", "baseline": "middle", "font": "Liberation Sans"},
   "encoding": {"x": {"datum": -0.36}, "y": {"datum": 17.9}, "text": {"value": "(c)"}}}
 ]
},
{
 "width": 366, "height": 270,
 "layer": [
  {"data": {"name": "vth"}, "mark": {"type": "errorbar", "ticks": {"size": 7}, "thickness": 1.2},
   "encoding": {
    "x": {"field": "n", "type": "quantitative", "scale": {"domain": [-0.5, 3.5], "nice": false, "zero": false},
      "axis": {"title": "The number of Amino group in SAMs", "titleFontSize": 20.5, "titlePadding": 4, "labelFontSize": 18, "labelPadding": 2, "values": [0, 0.5, 1, 1.5, 2, 2.5, 3], "labelExpr": "datum.value % 1 === 0 ? format(datum.value, 'd') : ''", "tickSize": {"condition": {"test": "datum.value % 1 === 0", "value": 6}, "value": 4}}},
    "y": {"field": "lo", "type": "quantitative", "scale": {"domain": [-20, 30], "nice": false, "zero": false},
      "axis": {"title": "Vₜₕ (V)", "titleFontSize": 28, "titleFontStyle": "italic", "titlePadding": 4, "labelFontSize": 18, "labelPadding": 2, "values": [-20, -10, 0, 10, 20], "labelExpr": "datum.value % 20 === 0 ? datum.label : ''", "tickSize": 6}},
    "y2": {"field": "hi"},
    "color": {"field": "s", "type": "nominal", "scale": {"domain": ["Bare","BTMS","OTMS","DDTMS","ODTMS","TMA","TMDA","TMTA"], "range": ["#000000","#f0141e","#3c4fc4","#cf55c6","#1e8c3c","#1c1f87","#7a55c8","#7b1f8f"]}, "legend": null}
   }},
  {"data": {"name": "vth"}, "mark": {"type": "point", "filled": true, "size": 190, "opacity": 1},
   "encoding": {
    "x": {"field": "n", "type": "quantitative"},
    "y": {"field": "y", "type": "quantitative"},
    "color": {"field": "s", "type": "nominal", "legend": null},
    "shape": {"field": "s", "type": "nominal", "scale": {"domain": ["Bare","BTMS","OTMS","DDTMS","ODTMS","TMA","TMDA","TMTA"], "range": ["square","circle","triangle-up","triangle-down","diamond","triangle-left","triangle-right","M0,-1.1L0.95,-0.55L0.95,0.55L0,1.1L-0.95,0.55L-0.95,-0.55Z"]}, "legend": null}
   }},
  {"data": {"name": "vthLab"}, "mark": {"type": "text", "fontSize": 20, "font": "Liberation Sans", "align": "center", "baseline": "middle"},
   "encoding": {
    "x": {"field": "lx", "type": "quantitative"},
    "y": {"field": "ly", "type": "quantitative"},
    "text": {"field": "t"},
    "fill": {"field": "s", "type": "nominal", "scale": {"domain": ["Bare","BTMS","OTMS","DDTMS","ODTMS","TMA","TMDA","TMTA"], "range": ["#000000","#f0141e","#3c4fc4","#cf55c6","#1e8c3c","#1c1f87","#7a55c8","#9a1b1b"]}, "legend": null}
   }},
  {"data": {"values": [{}]}, "mark": {"type": "text", "fontSize": 24, "fontWeight": "bold", "align": "left", "baseline": "middle", "font": "Liberation Sans"},
   "encoding": {"x": {"datum": -0.4}, "y": {"datum": 25.6}, "text": {"value": "(d)"}}}
 ]
}
]
}
